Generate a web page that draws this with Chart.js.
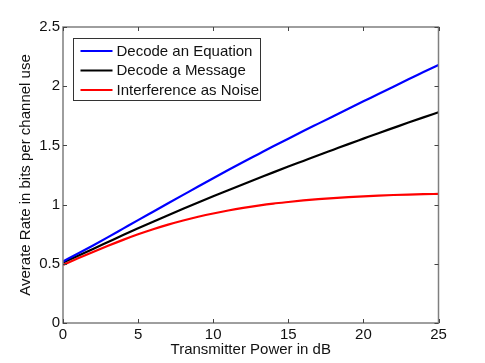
<!DOCTYPE html>
<html>
<head>
<meta charset="utf-8">
<script src="https://cdn.jsdelivr.net/npm/chart.js@4"></script>
<style>
    html, body { margin: 0; padding: 0; background: #fff; }
    #wrap { width: 485px; height: 363px; }
</style>
</head>
<body>
<div id="wrap"><canvas id="rateChart"></canvas></div>
<script>
const powerDb = [0, 1, 2, 3, 4, 5, 6, 7, 8, 9, 10, 11, 12, 13, 14, 15, 16, 17, 18, 19, 20, 21, 22, 23, 24, 25];

const decodeEquation = [0.52, 0.587, 0.655, 0.725, 0.797, 0.869, 0.94, 1.011, 1.082, 1.153, 1.223, 1.292, 1.36,
    1.426, 1.492, 1.557, 1.621, 1.684, 1.747, 1.81, 1.872, 1.934, 1.996, 2.058, 2.119, 2.18];
const decodeMessage = [0.51, 0.567, 0.625, 0.684, 0.743, 0.80, 0.856, 0.911, 0.965, 1.018, 1.07, 1.121, 1.172,
    1.222, 1.272, 1.321, 1.369, 1.417, 1.464, 1.511, 1.557, 1.603, 1.648, 1.693, 1.737, 1.78];
const interferenceNoise = [0.49, 0.546, 0.60, 0.652, 0.702, 0.749, 0.792, 0.831, 0.866, 0.897, 0.925, 0.95, 0.972,
    0.991, 1.008, 1.022, 1.035, 1.046, 1.055, 1.063, 1.07, 1.076, 1.081, 1.085, 1.088, 1.09];

const seriesNames = ['Decode an Equation', 'Decode a Message', 'Interference as Noise'];
const seriesColors = ['#0000ff', '#000000', '#ff0000'];

const FONT = 'Liberation Sans, Arial, Helvetica, sans-serif';
const FONT_SIZE = 15;
const AXIS_GRAY = '#7f7f7f';

function toPoints(values) {
    return values.map((v, i) => ({x: powerDb[i], y: v}));
}

// matlab style box with inward ticks and legend inside the axes
const matlabBox = {
    id: 'matlabBox',
    afterDatasetsDraw(chart) {
        const ctx = chart.ctx;
        const a = chart.chartArea;
        const xs = chart.scales.x;
        const ys = chart.scales.y;
        ctx.save();
        ctx.strokeStyle = AXIS_GRAY;
        ctx.lineWidth = 1.5;
        ctx.strokeRect(a.left, a.top, a.right - a.left, a.bottom - a.top);

        ctx.strokeStyle = '#444';
        ctx.lineWidth = 1;
        const len = 4;
        xs.ticks.forEach(t => {
            const px = Math.round(xs.getPixelForValue(t.value)) + 0.5;
            ctx.beginPath();
            ctx.moveTo(px, a.bottom); ctx.lineTo(px, a.bottom - len);
            ctx.moveTo(px, a.top); ctx.lineTo(px, a.top + len);
            ctx.stroke();
        });
        ys.ticks.forEach(t => {
            const py = Math.round(ys.getPixelForValue(t.value)) + 0.5;
            ctx.beginPath();
            ctx.moveTo(a.left, py); ctx.lineTo(a.left + len, py);
            ctx.moveTo(a.right, py); ctx.lineTo(a.right - len, py);
            ctx.stroke();
        });

        // legend
        const bx = a.left + 10.5, by = a.top + 11.5, bw = 187, bh = 62;
        ctx.fillStyle = '#fff';
        ctx.fillRect(bx, by, bw, bh);
        ctx.strokeStyle = '#333';
        ctx.strokeRect(bx, by, bw, bh);
        ctx.font = FONT_SIZE + 'px ' + FONT;
        ctx.textBaseline = 'middle';
        chart.data.datasets.forEach((ds, i) => {
            const rowY = by + 12.5 + i * 19.5;
            ctx.strokeStyle = ds.borderColor;
            ctx.lineWidth = 2;
            ctx.beginPath();
            ctx.moveTo(bx + 7, rowY);
            ctx.lineTo(bx + 39, rowY);
            ctx.stroke();
            ctx.fillStyle = '#111';
            ctx.fillText(ds.label, bx + 43, rowY + 0.5);
        });
        ctx.restore();
    }
};

const ctx = document.getElementById('rateChart').getContext('2d');
new Chart(ctx, {
    type: 'line',
    data: {
        datasets: [
            {label: seriesNames[0], data: toPoints(decodeEquation), borderColor: seriesColors[0]},
            {label: seriesNames[1], data: toPoints(decodeMessage), borderColor: seriesColors[1]},
            {label: seriesNames[2], data: toPoints(interferenceNoise), borderColor: seriesColors[2]}
        ]
    },
    options: {
        responsive: true,
        maintainAspectRatio: false,
        animation: false,
        elements: {
            line: {borderWidth: 2.2, cubicInterpolationMode: 'monotone', fill: false},
            point: {radius: 0}
        },
        layout: {padding: {left: 0, top: 27, right: 46.5, bottom: 0}},
        plugins: {
            legend: {display: false},
            tooltip: {enabled: false}
        },
        scales: {
            x: {
                type: 'linear',
                min: 0,
                max: 25,
                grid: {display: false, drawTicks: false},
                border: {display: false},
                ticks: {stepSize: 5, padding: 3, color: '#111', font: {family: FONT, size: FONT_SIZE}, maxRotation: 0},
                title: {
                    display: true,
                    text: 'Transmitter Power in dB',
                    color: '#111',
                    font: {family: FONT, size: FONT_SIZE},
                    padding: {top: 0, bottom: 4}
                },
                afterFit(scale) { scale.height = 40; }
            },
            y: {
                type: 'linear',
                min: 0,
                max: 2.5,
                grid: {display: false, drawTicks: false},
                border: {display: false},
                ticks: {
                    stepSize: 0.5,
                    padding: 3,
                    color: '#111',
                    font: {family: FONT, size: FONT_SIZE},
                    callback: v => String(v)
                },
                title: {
                    display: true,
                    text: 'Averate Rate in bits per channel use',
                    color: '#111',
                    font: {family: FONT, size: FONT_SIZE},
                    padding: {top: 17, bottom: 0}
                },
                afterFit(scale) { scale.width = 63; }
            }
        }
    },
    plugins: [matlabBox]
});
</script>
</body>
</html>
